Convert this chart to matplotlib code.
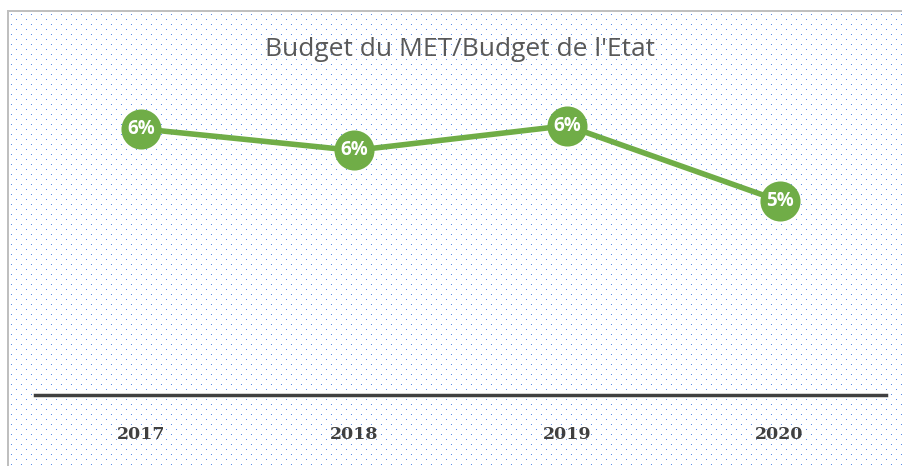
import numpy as np
import matplotlib
matplotlib.use('Agg')
import matplotlib.pyplot as plt

annees = ['2017', '2018', '2019', '2020']
ratio_budget = [0.062, 0.0593, 0.0624, 0.053]
titre = "Budget du MET/Budget de l'Etat"

VERT = '#70AD47'
GRIS = '#404040'

L, H = 902, 466
fig = plt.figure(figsize=(L / 100, H / 100), dpi=100)

# fond pointillé (motif de remplissage)
fond = np.ones((H, L, 3))
yy, xx = np.mgrid[0:H, 0:L]
rang = (yy - 14) // 5
points = ((yy - 14) % 5 == 0) & ((xx - 11 + (rang % 2) * 5) % 10 == 0) & (yy >= 14) & (xx >= 11)
fond[points] = np.array([0.35, 0.55, 0.92])
fond[10:12, 7:] = 0.75
fond[10:, 7:9] = 0.75
fig.figimage(fond, xo=0, yo=0, origin='upper', zorder=0)

ax = fig.add_axes([35 / L, 1 - 395 / H, (886 - 35) / L, (395 - 60) / H])
ax.set_zorder(2)
ax.patch.set_alpha(0)
x = np.arange(len(annees))
ax.plot(x, ratio_budget, color=VERT, lw=4, solid_capstyle='round', zorder=2)
ax.scatter(x, ratio_budget, s=40 ** 2 * 0.52, color=VERT, zorder=3, linewidths=0)
for xi, v in zip(x, ratio_budget):
    ax.text(xi, v, f"{v:.0%}", color='white', fontsize=13.5, fontweight='bold',
            family='Open Sans', ha='center', va='center', zorder=4)

ax.set_xlim(-0.5, 3.5)
ax.set_ylim(0.02875, 0.0706)
ax.set_xticks(x)
ax.set_xticklabels(annees, family='DejaVu Serif', fontsize=12.5, fontweight='bold', color=GRIS)
ax.tick_params(axis='x', length=0, pad=22)
ax.set_yticks([])
for s in ['top', 'right', 'left']:
    ax.spines[s].set_visible(False)
ax.spines['bottom'].set_color(GRIS)
ax.spines['bottom'].set_linewidth(2.5)

fig.text(460 / L, 1 - 50 / H, titre, ha='center', va='center', fontsize=19,
         family='Open Sans', color='#595959', zorder=3)

fig.savefig('out.png', dpi=100)
